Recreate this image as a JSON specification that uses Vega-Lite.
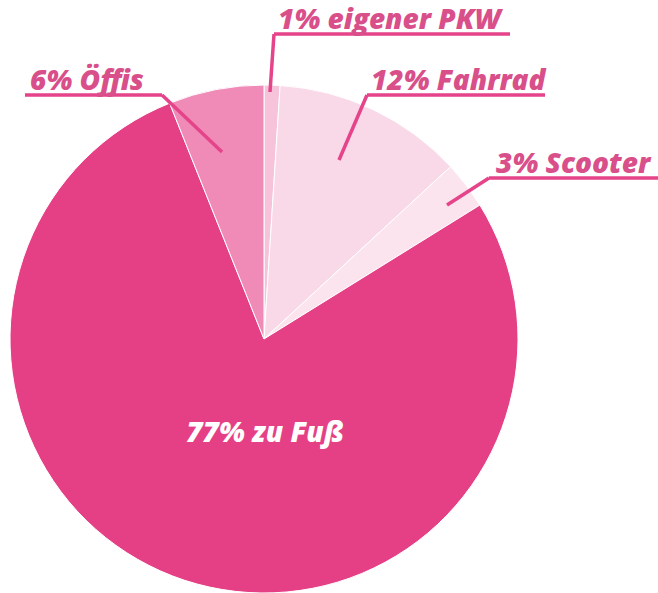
{
  "$schema": "https://vega.github.io/schema/vega-lite/v6.json",
  "width": 658,
  "height": 593,
  "padding": 0,
  "autosize": {"type": "none"},
  "background": "white",
  "config": {"view": {"stroke": null}},
  "datasets": {
    "slices": [
      {"mode": "eigener PKW", "pct": 1, "ord": 1},
      {"mode": "Fahrrad", "pct": 12, "ord": 2},
      {"mode": "Scooter", "pct": 3, "ord": 3},
      {"mode": "zu Fuß", "pct": 77, "ord": 4},
      {"mode": "Öffis", "pct": 6, "ord": 5}
    ],
    "labels": [
      {"text": "1% eigener PKW", "tx": 278, "ty": 29, "ux1": 274, "ux2": 510, "uy": 34, "lx": 270, "ly": 92},
      {"text": "12% Fahrrad", "tx": 371, "ty": 90, "ux1": 367, "ux2": 545, "uy": 95, "lx": 339, "ly": 160},
      {"text": "3% Scooter", "tx": 496, "ty": 173, "ux1": 489, "ux2": 658, "uy": 178, "lx": 447, "ly": 205},
      {"text": "6% Öffis", "tx": 30, "ty": 90, "ux1": 25, "ux2": 162, "uy": 95, "lx": 222, "ly": 152}
    ]
  },
  "layer": [
    {
      "data": {"name": "slices"},
      "mark": {"type": "arc", "outerRadius": 254, "stroke": "white", "strokeWidth": 1},
      "encoding": {
        "x": {"datum": 264, "type": "quantitative", "scale": {"domain": [0, 658], "range": [0, 658], "nice": false, "zero": false}, "axis": null},
        "y": {"datum": 339, "type": "quantitative", "scale": {"domain": [0, 593], "range": [0, 593], "nice": false, "zero": false}, "axis": null},
        "theta": {"field": "pct", "type": "quantitative", "stack": true},
        "order": {"field": "ord"},
        "color": {
          "field": "mode", "type": "nominal", "legend": null,
          "scale": {
            "domain": ["eigener PKW", "Fahrrad", "Scooter", "zu Fuß", "Öffis"],
            "range": ["#F6C3DA", "#F9D9E8", "#FBE4EE", "#E54085", "#F08BB7"]
          }
        }
      }
    },
    {
      "data": {"name": "labels"},
      "mark": {"type": "rule", "stroke": "#E5438A", "strokeWidth": 3.5, "strokeCap": "butt"},
      "encoding": {
        "x": {"field": "ux1", "type": "quantitative"},
        "x2": {"field": "ux2"},
        "y": {"field": "uy", "type": "quantitative"},
        "y2": {"field": "uy"}
      }
    },
    {
      "data": {"name": "labels"},
      "transform": [{"calculate": "datum.text == '6% Öffis' ? datum.ux2 : datum.ux1", "as": "sx"}],
      "mark": {"type": "rule", "stroke": "#E5438A", "strokeWidth": 3.5, "strokeCap": "butt"},
      "encoding": {
        "x": {"field": "sx", "type": "quantitative"},
        "x2": {"field": "lx"},
        "y": {"field": "uy", "type": "quantitative"},
        "y2": {"field": "ly"}
      }
    },
    {
      "data": {"name": "labels"},
      "mark": {"type": "text", "align": "left", "baseline": "alphabetic", "font": "Open Sans", "fontSize": 28, "fontWeight": 800, "fontStyle": "italic", "color": "#D94F8A"},
      "encoding": {
        "x": {"field": "tx", "type": "quantitative"},
        "y": {"field": "ty", "type": "quantitative"},
        "text": {"field": "text"}
      }
    },
    {
      "data": {"values": [{"text": "77% zu Fuß"}]},
      "mark": {"type": "text", "align": "center", "baseline": "middle", "font": "Open Sans", "fontSize": 28, "fontWeight": 800, "fontStyle": "italic", "color": "white"},
      "encoding": {
        "x": {"datum": 265, "type": "quantitative"},
        "y": {"datum": 434, "type": "quantitative"},
        "text": {"field": "text"}
      }
    }
  ]
}
